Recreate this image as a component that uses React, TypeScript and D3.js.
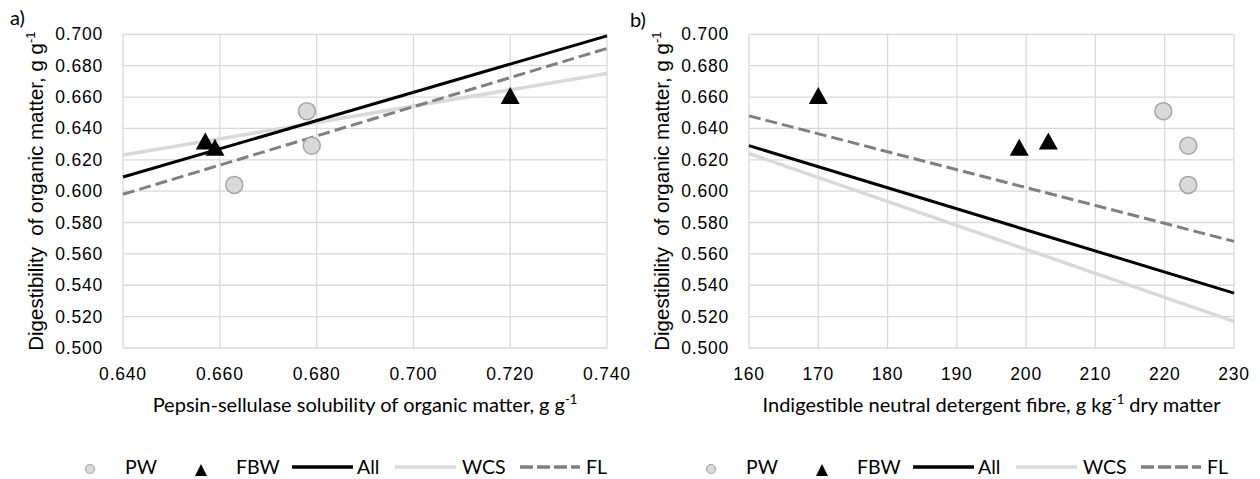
import React from "react";
import * as d3 from "d3";

// tick values
const yTicks = [0.5, 0.52, 0.54, 0.56, 0.58, 0.6, 0.62, 0.64, 0.66, 0.68, 0.7];
const xTicksA = [0.64, 0.66, 0.68, 0.7, 0.72, 0.74];
const xTicksB = [160, 170, 180, 190, 200, 210, 220, 230];

// panel a) pepsin-cellulase solubility
const pwA = [
  { x: 0.678, y: 0.651 },
  { x: 0.679, y: 0.629 },
  { x: 0.663, y: 0.604 },
];
const fbwA = [
  { x: 0.657, y: 0.632 },
  { x: 0.659, y: 0.628 },
  { x: 0.72, y: 0.661 },
];
const allA = [
  { x: 0.64, y: 0.609 },
  { x: 0.74, y: 0.699 },
];
const wcsA = [
  { x: 0.64, y: 0.623 },
  { x: 0.74, y: 0.675 },
];
const flA = [
  { x: 0.64, y: 0.598 },
  { x: 0.74, y: 0.691 },
];

// panel b) iNDF
const pwB = [
  { x: 219.8, y: 0.651 },
  { x: 223.4, y: 0.629 },
  { x: 223.4, y: 0.604 },
];
const fbwB = [
  { x: 170, y: 0.661 },
  { x: 199, y: 0.628 },
  { x: 203.2, y: 0.632 },
];
const allB = [
  { x: 160, y: 0.629 },
  { x: 230, y: 0.535 },
];
const wcsB = [
  { x: 160, y: 0.624 },
  { x: 230, y: 0.517 },
];
const flB = [
  { x: 160, y: 0.648 },
  { x: 230, y: 0.568 },
];

type Pt = { x: number; y: number };

const GRID = "#d9d9d9";
const TICK_FONT = "'Liberation Sans', Arial, sans-serif";
const TITLE_FONT = "Lato, 'Open Sans', sans-serif";

const tri = (w: number, h: number) =>
  `M0,${-h / 2}L${w / 2},${h / 2}L${-w / 2},${h / 2}Z`;

function Panel(props: {
  left: number;
  right: number;
  xDomain: [number, number];
  xTicks: number[];
  xFmt: (v: number) => string;
  pw: Pt[];
  fbw: Pt[];
  all: Pt[];
  wcs: Pt[];
  fl: Pt[];
  label: string;
  labelX: number;
  labelY: number;
  titleParts: [string, string];
  legendX: number;
}) {
  const top = 34.3;
  const bottom = 348;
  const x = d3.scaleLinear().domain(props.xDomain).range([props.left, props.right]);
  const y = d3.scaleLinear().domain([0.5, 0.7]).range([bottom, top]);
  const line = d3
    .line<Pt>()
    .x((d) => x(d.x))
    .y((d) => y(d.y));
  const yFmt = d3.format(".3f");
  const cx = (props.left + props.right) / 2;
  const cy = (top + bottom) / 2;
  const lg = props.legendX;
  const ly = 467;

  return (
    <g>
      <text x={props.labelX} y={props.labelY} fontFamily={TITLE_FONT} fontSize={20}>
        {props.label}
      </text>
      {/* grid */}
      {yTicks.map((t) => (
        <line key={"h" + t} x1={props.left} x2={props.right} y1={y(t)} y2={y(t)} stroke={GRID} strokeWidth={1.3} />
      ))}
      {props.xTicks.map((t) => (
        <line key={"v" + t} x1={x(t)} x2={x(t)} y1={top} y2={bottom} stroke={GRID} strokeWidth={1.3} />
      ))}
      {/* tick labels */}
      {yTicks.map((t) => (
        <text
          key={"yl" + t}
          x={props.left - 20}
          y={y(t) + 6}
          textAnchor="end"
          fontFamily={TICK_FONT}
          fontSize={17.5}
          letterSpacing={0.8}
        >
          {yFmt(t)}
        </text>
      ))}
      {props.xTicks.map((t) => (
        <text
          key={"xl" + t}
          x={x(t)}
          y={380}
          textAnchor="middle"
          fontFamily={TICK_FONT}
          fontSize={17.5}
          letterSpacing={0.8}
        >
          {props.xFmt(t)}
        </text>
      ))}
      {/* axis titles */}
      <text
        transform={`translate(${props.left - 80},${cy}) rotate(-90)`}
        textAnchor="middle"
        fontFamily={TICK_FONT}
        fontSize={20.5}
        style={{ whiteSpace: "pre" }}
      >
        {"Digestibility  of organic matter, g g"}
        <tspan dy={-8} fontSize={13}>
          -1
        </tspan>
      </text>
      <text x={cx} y={411.5} textAnchor="middle" fontFamily={TITLE_FONT} fontSize={20}>
        {props.titleParts[0]}
        <tspan dy={-8} fontSize={13}>
          -1
        </tspan>
        <tspan dy={8}>{props.titleParts[1]}</tspan>
      </text>
      {/* trend lines */}
      <path d={line(props.wcs) || ""} fill="none" stroke={GRID} strokeWidth={3.5} />
      <path d={line(props.all) || ""} fill="none" stroke="#000" strokeWidth={3} />
      <path d={line(props.fl) || ""} fill="none" stroke="#808080" strokeWidth={3} strokeDasharray="12,5" />
      {/* markers */}
      {props.pw.map((d, i) => (
        <circle key={"pw" + i} cx={x(d.x)} cy={y(d.y)} r={8.5} fill="#d9d9d9" stroke="#a6a6a6" strokeWidth={1.5} />
      ))}
      {props.fbw.map((d, i) => (
        <path key={"fb" + i} d={tri(19, 17)} transform={`translate(${x(d.x)},${y(d.y)})`} fill="#000" />
      ))}
      {/* legend */}
      <g fontFamily={TITLE_FONT} fontSize={19.5}>
        <circle cx={lg} cy={ly + 2} r={4.5} fill="#d9d9d9" stroke="#a6a6a6" strokeWidth={1.2} />
        <text x={lg + 35} y={ly + 7}>PW</text>
        <path d={tri(12, 12)} transform={`translate(${lg + 111},${ly + 3})`} fill="#000" />
        <text x={lg + 146} y={ly + 7}>FBW</text>
        <line x1={lg + 202} x2={lg + 263} y1={ly} y2={ly} stroke="#000" strokeWidth={3.5} />
        <text x={lg + 267} y={ly + 7}>All</text>
        <line x1={lg + 305} x2={lg + 366} y1={ly} y2={ly} stroke={GRID} strokeWidth={3.5} />
        <text x={lg + 372} y={ly + 7}>WCS</text>
        <line x1={lg + 430} x2={lg + 490} y1={ly} y2={ly} stroke="#808080" strokeWidth={3.5} strokeDasharray="13,4" />
        <text x={lg + 496} y={ly + 7}>FL</text>
      </g>
    </g>
  );
}

export default function App() {
  return (
    <svg
      width={1260}
      height={479}
      style={{ position: "absolute", left: 0, top: 0, background: "#fff" }}
    >
      <Panel
        left={123}
        right={607}
        xDomain={[0.64, 0.74]}
        xTicks={xTicksA}
        xFmt={d3.format(".3f")}
        pw={pwA}
        fbw={fbwA}
        all={allA}
        wcs={wcsA}
        fl={flA}
        label="a)"
        labelX={10}
        labelY={25}
        titleParts={["Pepsin-sellulase solubility of organic matter, g g", ""]}
        legendX={90}
      />
      <Panel
        left={749}
        right={1234}
        xDomain={[160, 230]}
        xTicks={xTicksB}
        xFmt={d3.format("d")}
        pw={pwB}
        fbw={fbwB}
        all={allB}
        wcs={wcsB}
        fl={flB}
        label="b)"
        labelX={630}
        labelY={27}
        titleParts={["Indigestible neutral detergent fibre, g kg", " dry matter"]}
        legendX={711}
      />
    </svg>
  );
}
